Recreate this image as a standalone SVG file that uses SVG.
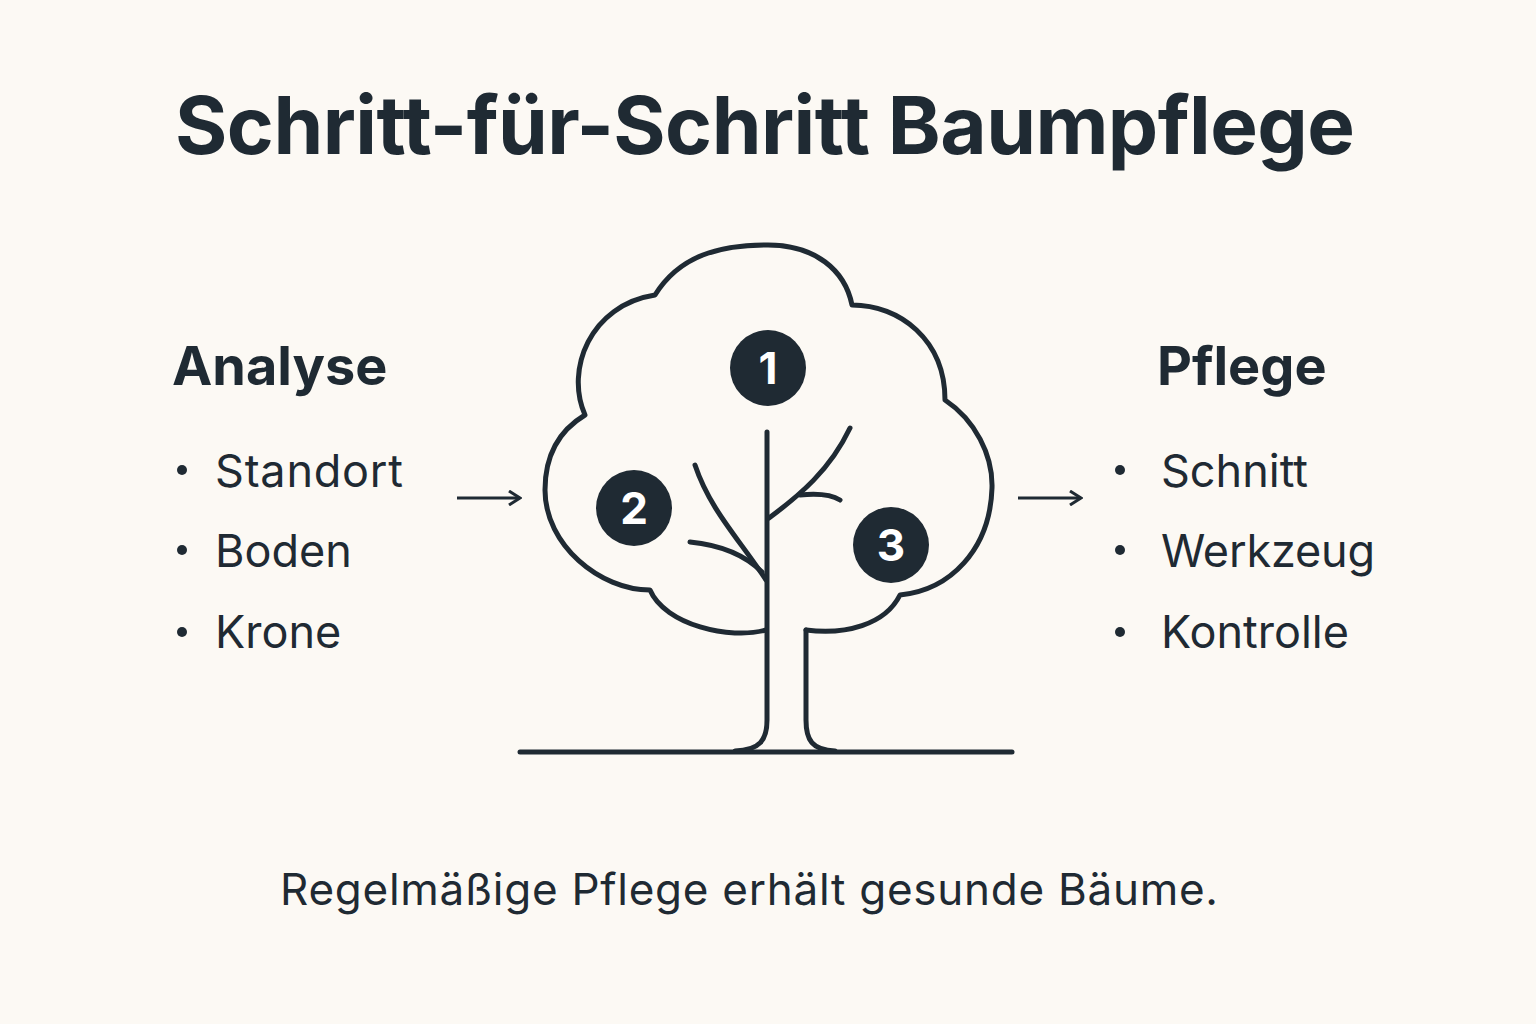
<svg xmlns="http://www.w3.org/2000/svg" width="1536" height="1024" viewBox="0 0 1536 1024">
<style>
.t{font-family:Inter,"Noto Sans","Liberation Sans",sans-serif;fill:#1f2a33}
.ln{fill:none;stroke:#1f2a33;stroke-width:5;stroke-linecap:round;stroke-linejoin:round}
.num{font-family:Inter,"Liberation Sans",sans-serif;font-weight:700;font-size:44px;fill:#fff;text-anchor:middle}
.b{font-size:45px}
</style>
<defs><marker id="ah" markerWidth="14" markerHeight="16" refX="12" refY="8" orient="auto" markerUnits="userSpaceOnUse"><path d="M1 1 L12 8 L1 15" fill="none" stroke="#1f2a33" stroke-width="3"/></marker></defs>
<rect width="1536" height="1024" fill="#fcf9f4"/>
<text class="t" x="765" y="154" font-size="80" font-weight="700" text-anchor="middle" textLength="1180">Schritt-für-Schritt Baumpflege</text>
<g id="analyse">
<text class="t" x="172" y="385" font-size="54" font-weight="700">Analyse</text>
<circle cx="182" cy="470" r="5" fill="#1f2a33"/><text class="t b" x="215" y="487" textLength="188">Standort</text>
<circle cx="182" cy="550" r="5" fill="#1f2a33"/><text class="t b" x="215" y="567">Boden</text>
<circle cx="182" cy="632" r="5" fill="#1f2a33"/><text class="t b" x="215" y="648">Krone</text>
</g>
<g id="pflege">
<text class="t" x="1157" y="385" font-size="54" font-weight="700">Pflege</text>
<circle cx="1120" cy="470" r="5" fill="#1f2a33"/><text class="t b" x="1161" y="487">Schnitt</text>
<circle cx="1120" cy="550" r="5" fill="#1f2a33"/><text class="t b" x="1161" y="567" textLength="214">Werkzeug</text>
<circle cx="1120" cy="632" r="5" fill="#1f2a33"/><text class="t b" x="1161" y="648" textLength="188">Kontrolle</text>
</g>
<g id="connectors">
<path d="M457 498 H520" stroke="#1f2a33" stroke-width="3" marker-end="url(#ah)"/>
<path d="M1018 498 H1081" stroke="#1f2a33" stroke-width="3" marker-end="url(#ah)"/>
</g>
<g id="tree">
<path class="ln" d="M766 630 C730 640,665 625,650 590 C600 590,545 545,545 490 C545 455,560 430,585 415 C565 370,590 305,655 295 C680 255,720 245,768 245 C815 245,845 270,852 305 C900 305,945 340,945 400 C975 420,993 455,992 488 C990 550,950 590,900 595 C885 625,845 635,806 630"/>
<path class="ln" d="M767 432 V720 C767 740,760 750,735 751"/>
<path class="ln" d="M806 630 V720 C806 740,812 750,835 751"/>
<path class="ln" d="M520 752 H1012"/>
<path class="ln" d="M766 580 C740 540,710 510,695 465"/>
<path class="ln" d="M690 542 C720 545,745 555,762 572"/>
<path class="ln" d="M769 518 C800 495,830 470,850 428"/>
<path class="ln" d="M800 495 C820 493,832 495,840 500"/>
</g>
<g id="n1"><circle cx="768" cy="368" r="38" fill="#1f2a33"/><text class="num" x="768" y="384">1</text></g>
<g id="n2"><circle cx="634" cy="508" r="38" fill="#1f2a33"/><text class="num" x="634" y="524">2</text></g>
<g id="n3"><circle cx="891" cy="545" r="38" fill="#1f2a33"/><text class="num" x="891" y="561">3</text></g>
<text class="t" x="749" y="905" font-size="44" text-anchor="middle" textLength="938">Regelmäßige Pflege erhält gesunde Bäume.</text>
</svg>
